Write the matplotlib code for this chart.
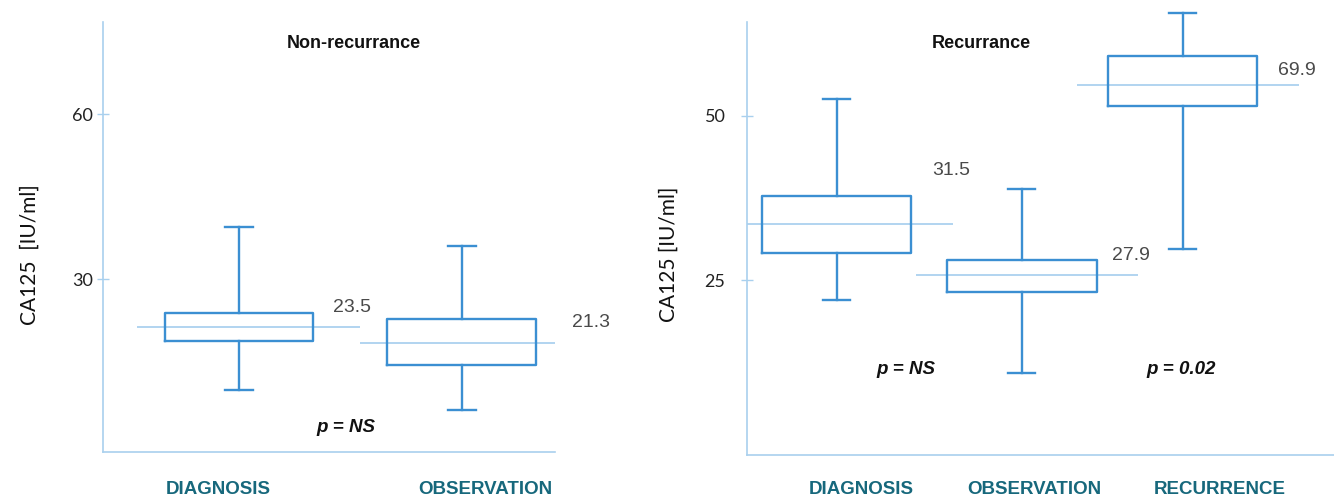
import matplotlib
matplotlib.use("Agg")
import matplotlib.pyplot as plt

# ---- data ----
nonrec_groups = ["DIAGNOSIS", "OBSERVATION"]
nonrec_whislo = [9.8, 6.1]
nonrec_q1 = [18.7, 14.3]
nonrec_med = [21.3, 18.4]
nonrec_q3 = [23.8, 22.7]
nonrec_whishi = [39.5, 36.1]
nonrec_labels = ["23.5", "21.3"]
nonrec_pvals = ["p = NS"]

rec_groups = ["DIAGNOSIS", "OBSERVATION", "RECURRENCE"]
rec_whislo = [22.0, 10.9, 29.8]
rec_q1 = [29.2, 23.3, 51.5]
rec_med = [33.6, 25.8, 54.7]
rec_q3 = [37.8, 28.1, 59.1]
rec_whishi = [52.5, 38.8, 65.5]
rec_labels = ["31.5", "27.9", "69.9"]
rec_pvals = ["p = NS", "p = 0.02"]

# ---- style ----
BOX = "#3b8fd2"
MED = "#9cc9ec"
SPINE = "#a9d0ee"
TEAL = "#17687c"
GREY = "#4a4a4a"
ARIAL = ["Liberation Sans", "DejaVu Sans"]
SOFT = ["Lato", "DejaVu Sans"]


def _stats(whislo, q1, med, q3, whishi):
  return [dict(whislo=a, q1=b, med=c, q3=d, whishi=e, fliers=[])
          for a, b, c, d, e in zip(whislo, q1, med, q3, whishi)]


def _draw(ax, stats, positions, width, capw, med_span):
  art = ax.bxp(stats, positions=positions, widths=width, capwidths=capw,
               showfliers=False, patch_artist=False,
               boxprops=dict(color=BOX, linewidth=1.7),
               whiskerprops=dict(color=BOX, linewidth=1.7),
               capprops=dict(color=BOX, linewidth=1.7),
               medianprops=dict(linewidth=0))
  for key in ("whiskers", "caps", "boxes"):
    for a in art[key]:
      a.set_clip_on(False)
  for p, s in zip(positions, stats):
    ax.hlines(s["med"], p + med_span[0], p + med_span[1], color=MED,
              linewidth=1.1, zorder=1)


def _style(ax, ticks, pad):
  for side in ("top", "right"):
    ax.spines[side].set_visible(False)
  for side in ("left", "bottom"):
    ax.spines[side].set_color(SPINE)
    ax.spines[side].set_linewidth(1.2)
  ax.set_yticks(ticks)
  ax.set_xticks([])
  ax.tick_params(axis="y", direction="inout", length=9, width=1,
                 color=SPINE, pad=pad, labelcolor="#222222")
  for lab in ax.get_yticklabels():
    lab.set_family(SOFT)
    lab.set_fontsize(13)


fig = plt.figure(figsize=(13.34, 5.03), dpi=100)

# ---- left panel: non-recurrance ----
ax1 = fig.add_axes([0.0772, 0.1014, 0.3388, 0.8549])
pos1 = [1, 2]
_draw(ax1, _stats(nonrec_whislo, nonrec_q1, nonrec_med, nonrec_q3, nonrec_whishi),
      pos1, 0.668, 0.126, (-0.457, 0.543))
ax1.set_xlim(0.390, 2.417)
ax1.set_ylim(-1.5, 76.8)
_style(ax1, [30, 60], 3)
for x, y, t in zip([1.507, 2.577], [24.9, 22.0], nonrec_labels):
  ax1.text(x, y, t, ha="center", va="center", fontsize=14, color=GREY,
           family=ARIAL)
ax1.text(1.48, 3.0, nonrec_pvals[0], ha="center", va="center", fontsize=13.5,
         fontweight="bold", fontstyle="italic", family=ARIAL, color="#111111")
for x, t in zip([218, 485], nonrec_groups):
  fig.text(x / 1334, 1 - 490 / 503, t, ha="center", va="center", fontsize=13.5,
           fontweight="bold", color=TEAL, family=ARIAL)
fig.text(354 / 1334, 1 - 44 / 503, "Non-recurrance", ha="center", va="center",
         fontsize=13, fontweight="bold", family=ARIAL, color="#111111")
fig.text(30 / 1334, 1 - 255 / 503, "CA125  [IU/ml]", rotation=90, ha="center",
         va="center", fontsize=15, family=SOFT, color="#111111")

# ---- right panel: recurrance ----
ax2 = fig.add_axes([0.560, 0.0954, 0.440, 0.861])
pos2 = [1, 2, 2.868]
_draw(ax2, _stats(rec_whislo, rec_q1, rec_med, rec_q3, rec_whishi),
      pos2, 0.807, 0.146, (-0.57, 0.63))
ax2.set_xlim(0.516, 3.686)
ax2.set_ylim(-1.5, 64.2)
_style(ax2, [25, 50], 11)
for x, y, t in zip([1.619, 2.59, 3.486], [41.65, 28.8, 56.9], rec_labels):
  ax2.text(x, y, t, ha="center", va="center", fontsize=14, color=GREY,
           family=ARIAL)
for x, t in zip([1.376, 2.86], rec_pvals):
  ax2.text(x, 11.4, t, ha="center", va="center", fontsize=13.5,
           fontweight="bold", fontstyle="italic", family=ARIAL, color="#111111")
for x, t in zip([861, 1034, 1220], rec_groups):
  fig.text(x / 1334, 1 - 490 / 503, t, ha="center", va="center", fontsize=13.5,
           fontweight="bold", color=TEAL, family=ARIAL)
fig.text(981 / 1334, 1 - 44 / 503, "Recurrance", ha="center", va="center",
         fontsize=13, fontweight="bold", family=ARIAL, color="#111111")
fig.text(669 / 1334, 1 - 254 / 503, "CA125 [IU/ml]", rotation=90, ha="center",
         va="center", fontsize=15, family=SOFT, color="#111111")

fig.savefig("out.png", dpi=100)
